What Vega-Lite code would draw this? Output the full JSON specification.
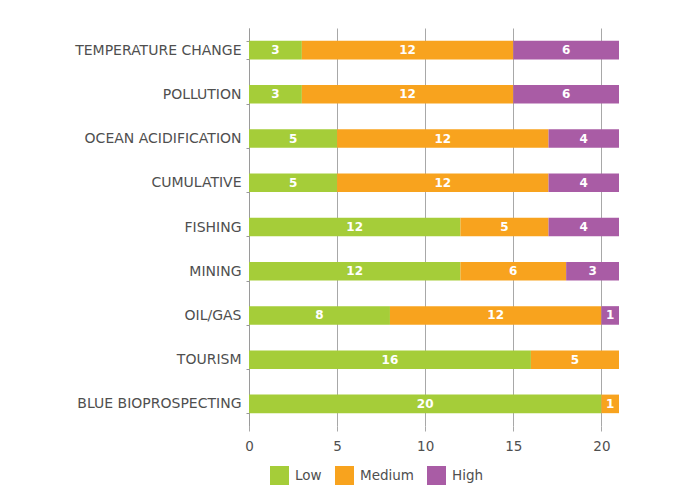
{
  "$schema": "https://vega.github.io/schema/vega-lite/v6.json",
  "autosize": {"type": "none"},
  "width": 370,
  "height": 398,
  "padding": {"left": 249, "top": 28, "right": 56, "bottom": 62},
  "background": "white",
  "config": {
    "view": {"stroke": null},
    "font": "DejaVu Sans",
    "axis": {"labelColor": "#4f4f4f", "labelFont": "DejaVu Sans", "labelFontSize": 14}
  },
  "data": {
    "values": [
      {"impact": "TEMPERATURE CHANGE", "level": "Low", "rank": 1, "count": 3},
      {"impact": "TEMPERATURE CHANGE", "level": "Medium", "rank": 2, "count": 12},
      {"impact": "TEMPERATURE CHANGE", "level": "High", "rank": 3, "count": 6},
      {"impact": "POLLUTION", "level": "Low", "rank": 1, "count": 3},
      {"impact": "POLLUTION", "level": "Medium", "rank": 2, "count": 12},
      {"impact": "POLLUTION", "level": "High", "rank": 3, "count": 6},
      {"impact": "OCEAN ACIDIFICATION", "level": "Low", "rank": 1, "count": 5},
      {"impact": "OCEAN ACIDIFICATION", "level": "Medium", "rank": 2, "count": 12},
      {"impact": "OCEAN ACIDIFICATION", "level": "High", "rank": 3, "count": 4},
      {"impact": "CUMULATIVE", "level": "Low", "rank": 1, "count": 5},
      {"impact": "CUMULATIVE", "level": "Medium", "rank": 2, "count": 12},
      {"impact": "CUMULATIVE", "level": "High", "rank": 3, "count": 4},
      {"impact": "FISHING", "level": "Low", "rank": 1, "count": 12},
      {"impact": "FISHING", "level": "Medium", "rank": 2, "count": 5},
      {"impact": "FISHING", "level": "High", "rank": 3, "count": 4},
      {"impact": "MINING", "level": "Low", "rank": 1, "count": 12},
      {"impact": "MINING", "level": "Medium", "rank": 2, "count": 6},
      {"impact": "MINING", "level": "High", "rank": 3, "count": 3},
      {"impact": "OIL/GAS", "level": "Low", "rank": 1, "count": 8},
      {"impact": "OIL/GAS", "level": "Medium", "rank": 2, "count": 12},
      {"impact": "OIL/GAS", "level": "High", "rank": 3, "count": 1},
      {"impact": "TOURISM", "level": "Low", "rank": 1, "count": 16},
      {"impact": "TOURISM", "level": "Medium", "rank": 2, "count": 5},
      {"impact": "BLUE BIOPROSPECTING", "level": "Low", "rank": 1, "count": 20},
      {"impact": "BLUE BIOPROSPECTING", "level": "Medium", "rank": 2, "count": 1}
    ]
  },
  "transform": [
    {"stack": "count", "groupby": ["impact"], "sort": [{"field": "rank", "order": "ascending"}], "as": ["x0", "x1"]},
    {"calculate": "(datum.x0 + datum.x1) / 2", "as": "mid"}
  ],
  "encoding": {
    "y": {
      "field": "impact",
      "type": "nominal",
      "sort": null,
      "scale": {"paddingInner": 0.58, "paddingOuter": 0.29},
      "axis": {
        "title": null,
        "domainColor": "#9a9a9a",
        "tickColor": "#9a9a9a",
        "tickBand": "extent",
        "tickSize": 3,
        "labelPadding": 5
      }
    }
  },
  "layer": [
    {
      "mark": {"type": "bar"},
      "encoding": {
        "x": {
          "field": "x0",
          "type": "quantitative",
          "scale": {"domain": [0, 21], "nice": false},
          "axis": {
            "title": null,
            "values": [0, 5, 10, 15, 20],
            "grid": true,
            "gridColor": "#a8a8a8",
            "gridWidth": 1,
            "domain": false,
            "labelFlush": false,
            "tickColor": "#a8a8a8",
            "tickSize": 5,
            "labelPadding": 8,
            "labelFontSize": 13.5
          }
        },
        "x2": {"field": "x1"},
        "color": {
          "field": "level",
          "type": "nominal",
          "scale": {"domain": ["Low", "Medium", "High"], "range": ["#a5cd39", "#f8a31e", "#a95ca5"]},
          "legend": {
            "title": null,
            "orient": "none",
            "direction": "horizontal",
            "legendX": 21,
            "legendY": 438,
            "symbolType": "square",
            "symbolSize": 361,
            "symbolStrokeWidth": 0,
            "symbolOpacity": 1,
            "labelFont": "DejaVu Sans",
            "labelFontSize": 13.5,
            "labelColor": "#4f4f4f",
            "labelOffset": 6,
            "columnPadding": 13
          }
        }
      }
    },
    {
      "mark": {"type": "text", "color": "white", "fontWeight": "bold", "fontSize": 12, "baseline": "middle", "align": "center"},
      "encoding": {
        "x": {"field": "mid", "type": "quantitative"},
        "text": {"field": "count", "type": "quantitative"}
      }
    }
  ]
}
